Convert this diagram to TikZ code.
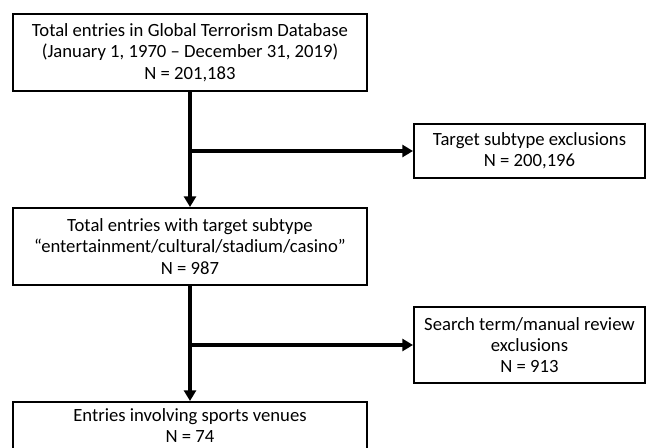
\documentclass[tikz,border=0pt]{standalone}
\usepackage{fontspec}
\setmainfont{Carlito}
\usetikzlibrary{positioning}
\usetikzlibrary{arrows.meta}

\begin{document}
\begin{tikzpicture}[
            x = 0.75pt, y = -0.75pt, % pixel grid, y downwards
            > = {Triangle[length=8pt,width=9pt]}, % arrow head style
            flow/.style = {line width=3pt},
            font = \fontsize{14}{16}\selectfont
        ]

        \tikzset{
            mainbox/.style = {
                draw, line width=1.5pt, fill=white,
                align=center, inner sep=0pt,
                minimum width=265.5pt, minimum height=57.75pt
            },
            exclbox/.style = {
                mainbox,
                minimum width=173.25pt
            }
        }

        \clip (0,0) rectangle (646,447);

	% main chain
        \node[mainbox] (total) at (190,52.5)
            {Total entries in Global Terrorism Database\\(January 1, 1970 -- December 31, 2019)\\N = 201,183};
        \node[mainbox] (subtype) [below=86.25pt of total]
            {Total entries with target subtype\\``entertainment/cultural/stadium/casino''\\N = 987};
        \node[mainbox, minimum height=35pt] (sports) [below=86.25pt of subtype]
            {Entries involving sports venues\\N = 74};

	% exclusions
        \node[exclbox, minimum height=40.5pt] (targetexcl) [below right=23.25pt and 33.75pt of total.south east]
            {Target subtype exclusions\\N = 200,196};
        \node[exclbox, minimum height=57pt] (reviewexcl) [below right=15pt and 33.75pt of subtype.south east]
            {Search term/manual review\\exclusions\\N = 913};

	% arrows
        \draw[flow,->] (total) -- (subtype);
        \draw[flow,->] (total.south |- targetexcl.west) -- (targetexcl.west);

        \draw[flow,->] (subtype) -- (sports);
        \draw[flow,->] (subtype.south |- reviewexcl.west) -- (reviewexcl.west);

\end{tikzpicture}
\end{document}
